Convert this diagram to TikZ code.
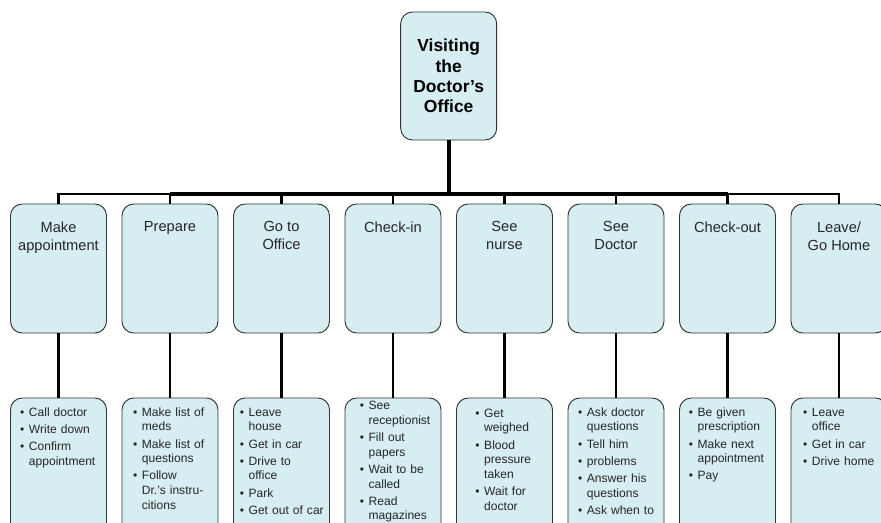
\documentclass[tikz,border=0pt]{standalone}
\usepackage{fontspec}
\setmainfont{Liberation Sans}
\usetikzlibrary{positioning}
\definecolor{boxfill}{RGB}{214,237,242}
\definecolor{boxline}{RGB}{51,51,51}
\newcommand{\bul}{\par\hangindent=7.5pt\hangafter=1\noindent\makebox[7.5pt][l]{\textbullet}}
\tikzset{
  box/.style={draw=boxline,fill=boxfill,line width=0.8pt,rounded corners=10pt,
    minimum width=2.88cm,inner sep=0pt,outer sep=0pt},
  topbox/.style={box,minimum height=3.87cm,anchor=north},
  subbox/.style={box,minimum height=4.2cm,anchor=north},
  toptext/.style={inner sep=0pt,align=center,text=black!85,
    font=\fontsize{12.5}{15.3}\selectfont},
  items/.style={inner sep=0pt,anchor=north west,text width=2.8cm,align=left,text=black!85,
    font=\fontsize{10.3}{12.5}\selectfont,execute at begin node={\setlength{\parskip}{2.2pt}}},
  link/.style={line width=1.8pt},
}

\begin{document}
\begin{tikzpicture}[x=0.03cm,y=-0.03cm]
  \useasboundingbox (0,0) rectangle (881,522);
  \clip (0,0) rectangle (881,522);

  % root
  \node[box,minimum height=3.84cm,align=center,font=\bfseries\fontsize{14.9}{17.3}\selectfont]
    (visit) at (448.7,76) {Visiting\\the\\Doctor’s\\Office};

  % steps and their details
  \foreach \i in {1,...,8} {
    \node[topbox] (t\i) at ({58.5+111.5*(\i-1)},204) {};
    \node[subbox] (s\i) at ({58.5+111.5*(\i-1)},398) {};
  }

  \node[toptext,below=5.25mm of t1.north] (n1) {Make\\appointment};
  \node[toptext,below=5.25mm of t2.north] (n2) {Prepare};
  \node[toptext,below=5.25mm of t3.north] (n3) {Go to\\Office};
  \node[toptext,below=5.25mm of t4.north] (n4) {Check-in};
  \node[toptext,below=5.25mm of t5.north] (n5) {See\\nurse};
  \node[toptext,below=5.25mm of t6.north] (n6) {See\\Doctor};
  \node[toptext,below=5.25mm of t7.north] (n7) {Check-out};
  \node[toptext,below=5.25mm of t8.north] (n8) {Leave/\\Go Home};

  \node[items] (l1) at ([shift={(9.4,0.7)}]s1.north west)
    {\bul Call doctor \bul Write down \bul Confirm\newline appointment\par};
  \node[items] (l2) at ([shift={(10.9,0.7)}]s2.north west)
    {\bul Make list of\newline meds \bul Make list of\newline questions \bul Follow\newline Dr.’s instru-\newline citions\par};
  \node[items] (l3) at ([shift={(6.1,0.7)}]s3.north west)
    {\bul Leave\newline house \bul Get in car \bul Drive to\newline office \bul Park \bul Get out of car\par};
  \node[items] (l4) at ([shift={(14.6,-5.8)}]s4.north west)
    {\bul See\newline receptionist \bul Fill out\newline papers \bul Wait to be\newline called \bul Read\newline magazines\par};
  \node[items] (l5) at ([shift={(18.7,1.7)}]s5.north west)
    {\bul Get\newline weighed \bul Blood\newline pressure\newline taken \bul Wait for\newline doctor\par};
  \node[items] (l6) at ([shift={(9.9,0.7)}]s6.north west)
    {\bul Ask doctor\newline questions \bul Tell him \bul problems \bul Answer his\newline questions \bul Ask when to\par};
  \node[items] (l7) at ([shift={(9.1,0.7)}]s7.north west)
    {\bul Be given\newline prescription \bul Make next\newline appointment \bul Pay\par};
  \node[items] (l8) at ([shift={(11.9,0.7)}]s8.north west)
    {\bul Leave\newline office \bul Get in car \bul Drive home\par};

  % connectors
  \coordinate (hub) at (visit.south |- 0,194);
  \draw[line width=3.4pt] (visit.south) -- (hub);
  \draw[line width=2.8pt] (t2.north |- hub) -- (t7.north |- hub);
  \foreach \i in {1,...,8} {
    \draw[link] (hub) -| (t\i.north);
    \draw[link] (t\i) -- (s\i);
  }
\end{tikzpicture}
\end{document}
